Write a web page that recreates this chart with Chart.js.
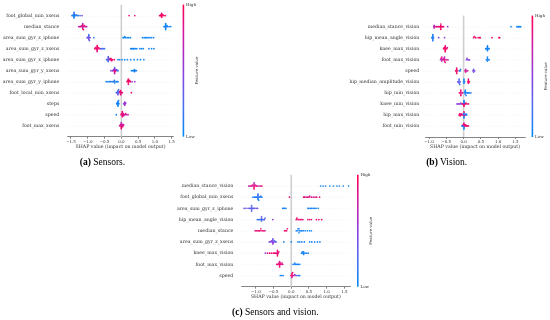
<!DOCTYPE html>
<html><head><meta charset="utf-8">
<script src="https://cdn.jsdelivr.net/npm/chart.js@4.4.1/dist/chart.umd.min.js"></script>
<style>
html,body{margin:0;padding:0;background:#fff;}
#wrap{position:relative;width:550px;height:320px;overflow:hidden;background:#fff;}
canvas{position:absolute;left:0;top:0;}
.cap{position:absolute;font-family:"Liberation Serif",serif;font-size:9.5px;line-height:1;color:#000;white-space:nowrap;transform:translate(-50%,-50%);}
</style></head><body>
<div id="wrap">
<canvas id="ca" width="550" height="320"></canvas>
<canvas id="cb" width="550" height="320"></canvas>
<canvas id="cc" width="550" height="320"></canvas>
<div class="cap" style="left:102.5px;top:163px"><b>(a)</b> Sensors.</div>
<div class="cap" style="left:446.7px;top:163px"><b>(b)</b> Vision.</div>
<div class="cap" style="left:275.3px;top:313px"><b>(c)</b> Sensors and vision.</div>
</div>
<script>
// ---------- data ----------
const shapTicks = [-1.5, -1.0, -0.5, 0.0, 0.5, 1.0, 1.5];
const axisTitle = 'SHAP value (impact on model output)';

const sensorsFeatures = ['foot_global_min_xsens','median_stance','area_sum_gyr_z_iphone','area_sum_gyr_z_xsens','area_sum_gyr_x_iphone','area_sum_gyr_y_xsens','area_sum_gyr_y_iphone','foot_local_min_xsens','steps','speed','foot_max_xsens'];
// each point: [SHAP value, normalised feature value (0 = low, 1 = high)]
const sensorsPoints = [
 [[-1.47,.05],[-1.45,.1],[-1.43,.05],[-1.42,.1],[-1.41,.05],[-1.41,.2],[-1.41,.05],[-1.41,.1],[-1.41,.3],[-1.41,.05],[-1.41,.15],[-1.39,.1],[-1.38,.05],[-1.36,.1],[-1.34,.2],[-1.31,.1],[-1.28,.1],[-1.23,.15],[-1.17,.45],[0.23,.9],[0.40,.85],[1.14,.9],[1.16,.95],[1.18,1],[1.19,.9],[1.20,.95],[1.20,1],[1.20,.9],[1.20,.95],[1.20,.85],[1.22,1],[1.24,.9],[1.27,.95],[1.31,.9]],
 [[-1.27,.7],[-1.24,.8],[-1.21,.9],[-1.19,.6],[-1.17,.95],[-1.15,.8],[-1.15,.9],[-1.15,.7],[-1.15,1],[-1.15,.85],[-1.15,.6],[-1.13,.95],[-1.12,.8],[-1.10,.9],[-1.08,.7],[-1.05,.9],[-1.03,.6],[1.27,.05],[1.29,.1],[1.31,.05],[1.32,.05],[1.32,.1],[1.32,0],[1.32,.05],[1.32,.1],[1.32,.05],[1.34,.05],[1.36,.05],[1.38,.1],[1.42,.05],[1.47,.05]],
 [[-1.02,.3],[-1.00,.4],[-0.98,.3],[-0.97,.45],[-0.97,.35],[-0.97,.4],[-0.97,.3],[-0.97,.45],[-0.97,.2],[-0.95,.3],[-0.93,.4],[-0.82,.15],[0.05,.05],[0.08,.05],[0.10,0],[0.13,.05],[0.18,.05],[0.22,.05],[0.27,.05],[0.63,.05],[0.68,.05],[0.72,0],[0.76,.05],[0.80,.05],[0.85,.05],[0.90,.05],[0.96,.05]],
 [[-0.79,.95],[-0.77,.9],[-0.75,1],[-0.73,.95],[-0.72,.9],[-0.72,.95],[-0.72,1],[-0.72,.9],[-0.72,.95],[-0.72,.85],[-0.70,.9],[-0.68,.95],[-0.65,.9],[-0.62,.45],[-0.59,.3],[-0.56,.2],[-0.53,.25],[-0.50,.15],[0.28,.05],[0.31,.05],[0.34,.1],[0.36,.05],[0.38,.05],[0.42,.05],[0.46,.05],[0.55,.05],[0.60,.05],[0.65,.05],[0.82,.05],[0.90,.05],[0.97,.05]],
 [[-0.44,.3],[-0.42,.2],[-0.40,.35],[-0.39,.25],[-0.39,.3],[-0.39,.4],[-0.39,.2],[-0.39,.3],[-0.37,.45],[-0.35,.3],[-0.33,.9],[-0.32,.95],[-0.31,.9],[-0.31,1],[-0.29,.9],[-0.26,.95],[-0.21,.9],[-0.10,.05],[-0.05,.05],[0.02,.05],[0.10,.05],[0.18,.05],[0.28,.05],[0.38,.05],[0.48,.05],[0.57,.05],[0.67,.05]],
 [[-0.31,.5],[-0.27,.4],[-0.25,.6],[-0.23,.5],[-0.21,.9],[-0.20,.45],[-0.20,.95],[-0.20,.55],[-0.20,.9],[-0.20,.3],[-0.20,.6],[-0.18,.9],[-0.17,.5],[-0.16,.95],[-0.14,.4],[-0.12,.2],[-0.10,.1],[0.30,.05],[0.34,.05],[0.37,.1],[0.39,.05],[0.39,.05],[0.39,.1],[0.42,.05],[0.45,.1]],
 [[-0.45,.05],[-0.40,.1],[-0.36,.05],[-0.32,.05],[-0.28,.15],[-0.25,.1],[-0.22,.05],[-0.21,.2],[-0.20,.1],[-0.18,.05],[-0.15,.1],[-0.12,.05],[-0.10,.05],[0.17,.95],[0.19,.9],[0.21,1],[0.21,.95],[0.21,.9],[0.21,1],[0.21,.85],[0.23,.95],[0.25,.9],[0.27,.95],[0.32,.55],[0.40,.5]],
 [[-0.15,.2],[-0.13,.3],[-0.11,.1],[-0.10,.4],[-0.10,.2],[-0.10,.3],[-0.10,.15],[-0.10,.45],[-0.08,.25],[-0.07,.35],[-0.05,.9],[-0.03,.95],[-0.02,.85],[-0.02,.9],[-0.02,.95],[-0.02,.9],[0.00,.85],[0.03,.9],[0.30,.95]],
 [[-0.14,.05],[-0.13,.1],[-0.12,.05],[-0.10,0],[-0.10,.05],[-0.10,.1],[-0.10,.05],[-0.10,0],[-0.10,.1],[-0.10,.05],[-0.08,.1],[-0.07,.05],[0.07,.55],[0.09,.5],[0.10,.6],[0.10,.55],[0.10,.5],[0.10,.6],[0.12,.5],[0.13,.55]],
 [[-0.15,.05],[-0.01,.9],[0.01,.95],[0.03,.85],[0.03,.9],[0.03,1],[0.03,.8],[0.03,.9],[0.03,.95],[0.05,.7],[0.06,.9],[0.07,.85],[0.09,.95],[0.11,.6],[0.13,.9],[0.16,.7],[0.20,.75]],
 [[-0.05,.8],[-0.03,.9],[-0.02,.7],[0.00,.95],[0.00,.85],[0.00,.9],[0.00,.75],[0.00,.95],[0.00,.6],[0.00,.9],[0.02,.8],[0.03,.85],[0.04,.95],[0.05,.7],[0.07,.8]]
];

const visionFeatures = ['median_stance_vision','hip_mean_angle_vision','knee_max_vision','foot_max_vision','speed','hip_median_amplitude_vision','hip_min_vision','knee_min_vision','hip_max_vision','foot_min_vision'];
const visionPoints = [
 [[-0.86,.55],[-0.85,.6],[-0.85,.7],[-0.85,.8],[-0.82,.75],[-0.78,.9],[-0.75,.85],[-0.72,.95],[-0.69,.9],[-0.66,1],[-0.66,.9],[-0.66,.95],[-0.66,.85],[-0.66,1],[-0.63,.9],[-0.61,.95],[-0.58,.85],[-0.46,.5],[1.37,.05],[1.54,.05],[1.57,.1],[1.59,.05],[1.62,.05],[1.65,.05]],
 [[-0.92,.1],[-0.90,.05],[-0.89,.15],[-0.89,.05],[-0.89,.1],[-0.89,.2],[-0.89,.05],[-0.89,.1],[-0.87,.15],[-0.72,.4],[-0.55,.5],[0.29,.95],[0.31,.9],[0.35,.95],[0.42,.9],[0.46,1],[0.48,.95],[0.82,.9],[1.02,.95],[1.04,1]],
 [[-0.58,.9],[-0.56,.95],[-0.55,1],[-0.53,.9],[-0.53,.95],[-0.53,.85],[-0.53,1],[-0.53,.9],[-0.53,.95],[-0.50,.9],[-0.49,.95],[-0.47,.85],[0.64,.05],[0.66,.1],[0.68,.05],[0.69,.05],[0.69,.1],[0.69,.05],[0.69,.05],[0.69,.1],[0.71,.05],[0.74,.05]],
 [[-0.67,.6],[-0.65,.8],[-0.63,.65],[-0.63,.9],[-0.63,.7],[-0.63,.85],[-0.60,.6],[-0.58,.95],[-0.57,.75],[-0.55,.9],[-0.55,.65],[-0.55,.85],[-0.55,.7],[-0.53,.9],[-0.51,.8],[-0.48,.95],[-0.45,.7],[0.08,.45],[0.10,.5],[0.12,.4],[0.15,.45],[0.17,.5],[0.66,.05],[0.68,.1],[0.69,.05],[0.69,.05],[0.69,.1],[0.71,.05],[0.74,.05]],
 [[-0.23,.95],[-0.21,.9],[-0.20,1],[-0.20,.95],[-0.20,.9],[-0.20,.95],[-0.17,.9],[-0.12,.1],[-0.10,.05],[-0.09,.15],[0.04,.8],[0.06,.9],[0.06,.7],[0.06,.85],[0.09,.75],[0.12,.8],[0.27,.4],[0.29,.45],[0.29,.35],[0.29,.4],[0.32,.45]],
 [[-0.17,.35],[-0.15,.3],[-0.13,.4],[-0.13,.25],[-0.13,.35],[-0.13,.3],[-0.11,.2],[-0.10,.3],[0.00,.05],[0.01,.1],[0.01,.05],[0.01,0],[0.03,.05],[0.12,.95],[0.14,.9],[0.14,1],[0.14,.95],[0.14,.9],[0.17,.95]],
 [[-0.12,.9],[-0.10,.95],[-0.08,.85],[-0.08,.9],[-0.08,.95],[-0.08,.9],[-0.05,.8],[-0.03,.9],[0.02,.1],[0.04,.05],[0.05,.1],[0.05,.05],[0.05,.15],[0.05,.1],[0.07,.05],[0.09,.1],[0.11,.05],[0.14,.1],[0.17,.05],[0.21,.1]],
 [[-0.19,.5],[-0.16,.45],[-0.13,.55],[-0.10,.5],[-0.08,.6],[-0.06,.5],[-0.03,.9],[-0.01,.95],[0.01,.1],[0.01,.9],[0.01,.05],[0.01,.95],[0.01,.15],[0.01,.9],[0.01,.1],[0.03,.85],[0.04,.05],[0.05,.9],[0.07,.95],[0.10,.9],[0.14,.85]],
 [[-0.13,.9],[-0.11,.95],[-0.10,.85],[-0.10,.9],[-0.10,.95],[-0.07,.9],[-0.05,.85],[-0.03,.9],[0.00,.1],[0.01,.05],[0.01,.9],[0.01,.1],[0.01,.05],[0.01,.95],[0.01,.1],[0.04,.05],[0.05,.85],[0.07,.1],[0.09,.05]],
 [[-0.05,.1],[-0.03,.05],[-0.02,.9],[0.00,.1],[0.01,.95],[0.01,.05],[0.01,.9],[0.01,.1],[0.01,.85],[0.01,.05],[0.03,.9],[0.04,.95],[0.05,.85],[0.06,.9],[0.08,.95],[0.11,.9],[0.14,.85]]
];

const bothFeatures = ['median_stance_vision','foot_global_min_xsens','area_sum_gyr_z_iphone','hip_mean_angle_vision','median_stance','area_sum_gyr_z_xsens','knee_max_vision','foot_max_vision','speed'];
const bothPoints = [
 [[-1.20,.7],[-1.17,.8],[-1.14,.9],[-1.12,.6],[-1.10,.95],[-1.08,.85],[-1.06,.7],[-1.05,.9],[-1.05,1],[-1.05,.8],[-1.05,.95],[-1.05,.6],[-1.05,.9],[-1.03,.85],[-1.01,.75],[-0.99,.95],[-0.97,.9],[-0.94,.8],[-0.90,.65],[-0.86,.9],[-0.83,.95],[0.83,.05],[0.90,.05],[0.97,.1],[1.09,.05],[1.19,.05],[1.29,.05],[1.36,.1],[1.47,.05],[1.62,.05]],
 [[-1.08,.1],[-1.04,.15],[-1.01,.05],[-0.98,.2],[-0.96,.1],[-0.94,.25],[-0.94,.05],[-0.94,.15],[-0.94,.3],[-0.94,.1],[-0.94,.2],[-0.92,.05],[-0.90,.15],[-0.88,.1],[-0.86,.2],[-0.83,.1],[-0.05,.9],[0.35,.95],[0.38,.85],[0.42,.9],[0.46,.75],[0.50,.95],[0.52,.8],[0.57,.9],[0.62,.7],[0.67,.95],[0.72,.85],[0.80,.9]],
 [[-1.33,.45],[-1.28,.3],[-1.22,.4],[-1.18,.25],[-1.15,.35],[-1.12,.2],[-1.12,.4],[-1.12,.3],[-1.12,.15],[-1.12,.35],[-1.09,.25],[-1.06,.45],[-1.03,.3],[-0.99,.4],[-0.95,.35],[-0.24,.05],[-0.21,.1],[-0.18,.05],[-0.15,.05],[0.47,.05],[0.50,.05],[0.54,.1],[0.58,.05],[0.62,.05],[0.66,.1],[0.70,.05],[0.76,.05]],
 [[-0.96,.15],[-0.92,.2],[-0.89,.1],[-0.86,.3],[-0.84,.15],[-0.84,.4],[-0.84,.2],[-0.84,.35],[-0.81,.1],[-0.78,.25],[-0.76,.4],[-0.74,.2],[-0.52,.55],[0.14,.9],[0.16,.95],[0.19,.85],[0.22,.9],[0.26,.95],[0.30,.9],[0.33,.85],[0.47,.95],[0.52,.9],[0.57,.85],[0.71,.95],[0.78,.9],[0.86,.95]],
 [[-1.02,.9],[-0.99,.85],[-0.96,.95],[-0.93,.9],[-0.90,.8],[-0.88,.95],[-0.86,.9],[-0.83,.85],[-0.80,.95],[-0.77,.9],[-0.74,.85],[-0.19,.95],[-0.16,.9],[-0.13,.95],[-0.11,.9],[0.14,.05],[0.17,.1],[0.19,.05],[0.22,.05],[0.22,.15],[0.22,.05],[0.25,.1],[0.28,.05],[0.31,.05],[0.35,.1],[0.40,.05],[0.46,.05],[0.52,.05],[0.57,.05]],
 [[-0.62,.5],[-0.58,.4],[-0.56,.55],[-0.54,.45],[-0.52,.6],[-0.52,.35],[-0.52,.5],[-0.52,.45],[-0.52,.55],[-0.52,.4],[-0.49,.5],[-0.47,.2],[-0.45,.45],[-0.43,.3],[-0.21,.05],[0.00,.05],[0.19,.05],[0.24,.05],[0.30,.1],[0.37,.05],[0.52,.05],[0.58,.05],[0.66,.1],[0.74,.05],[0.81,.05]],
 [[-0.73,.5],[-0.67,.9],[-0.61,.95],[-0.56,.85],[-0.51,.9],[-0.48,.95],[-0.45,.9],[-0.42,.85],[-0.39,.95],[-0.39,.9],[-0.39,1],[-0.39,.9],[-0.39,.95],[-0.37,.85],[-0.35,.9],[0.29,.05],[0.31,.1],[0.33,.05],[0.35,.05],[0.35,.1],[0.35,.05],[0.39,.05],[0.43,.1],[0.48,.05]],
 [[-0.41,.8],[-0.39,.9],[-0.37,.95],[-0.35,.85],[-0.33,.9],[-0.33,1],[-0.33,.9],[-0.33,.75],[-0.33,.95],[-0.31,.85],[-0.30,.9],[-0.28,.8],[-0.26,.9],[-0.24,.85],[0.05,.05],[0.08,.1],[0.10,.05],[0.12,.05],[0.14,.1],[0.17,.05],[0.20,.05],[0.24,.05]],
 [[-0.31,.05],[-0.27,.1],[-0.23,.05],[-0.01,.9],[0.02,.95],[0.02,.85],[0.02,.9],[0.02,1],[0.02,.8],[0.04,.9],[0.06,.7],[0.08,.85],[0.10,.6],[0.13,.45],[0.16,.3],[0.19,.2],[0.22,.15],[0.24,.1]]
];

// ---------- rendering helpers ----------
const FONT = '"DejaVu Serif", serif';
const CSTOPS = [[0,[0,139,246]],[0.25,[80,110,240]],[0.5,[140,62,222]],[0.75,[205,28,168]],[1,[255,0,82]]];
function fvColor(v){
  for(let i=1;i<CSTOPS.length;i++){
    const [p1,c1]=CSTOPS[i], [p0,c0]=CSTOPS[i-1];
    if(v<=p1){const t=(v-p0)/(p1-p0);return 'rgb('+c0.map((c,k)=>Math.round(c+(c1[k]-c)*t)).join(',')+')';}
  }
  return 'rgb(255,0,82)';
}
// SHAP-style beeswarm offsets: points that share a bin are stacked alternately above and below
function swarm(row){
  const idx=row.map((_,i)=>i).sort((a,b)=>row[a][0]-row[b][0]||a-b);
  const ys=new Array(row.length).fill(0);
  let layer=0,last=null;
  for(const i of idx){
    const q=Math.round(row[i][0]/0.03);
    if(q!==last) layer=0;
    ys[i]=Math.ceil(layer/2)*((layer%2)*2-1);
    layer++; last=q;
  }
  const m=Math.max(...ys.map(v=>v+1));
  return ys.map(v=>v*0.9*0.4/m);
}
function fmt(v){ if(Math.abs(v)<1e-9) return '0.0'; return v<0?'\u2212'+Math.abs(v).toFixed(1):v.toFixed(1); }

function buildPanel(id, features, rows, g){
  const n=features.length;
  const data=[], colors=[];
  rows.forEach((row,i)=>{
    const base=n-1-i, offs=swarm(row);
    row.forEach((p,j)=>{ data.push({x:p[0], y:base+offs[j]}); colors.push(fvColor(p[1])); });
  });
  const guides={id:'guides'+id, beforeDatasetsDraw(chart){
    const {ctx,chartArea:a,scales:{x,y}}=chart;
    ctx.save();
    ctx.strokeStyle='#cccccc'; ctx.lineWidth=0.5; ctx.setLineDash([0.6,2.4]);
    for(let r=0;r<n;r++){const py=Math.round(y.getPixelForValue(r))+0.25; ctx.beginPath(); ctx.moveTo(a.left,py); ctx.lineTo(a.right,py); ctx.stroke();}
    ctx.setLineDash([]); ctx.strokeStyle='#cfcfcf'; ctx.lineWidth=1.6;
    const x0=x.getPixelForValue(0); ctx.beginPath(); ctx.moveTo(x0,a.top); ctx.lineTo(x0,a.bottom); ctx.stroke();
    ctx.restore();
  }};
  const cbar={id:'cbar'+id, afterDraw(chart){
    const {ctx,chartArea:a}=chart;
    ctx.save();
    const gr=ctx.createLinearGradient(0,a.bottom,0,a.top);
    CSTOPS.forEach(([p])=>gr.addColorStop(p,fvColor(p)));
    ctx.fillStyle=gr; ctx.fillRect(g.cbx,a.top,1.6,a.bottom-a.top);
    ctx.fillStyle='#333'; ctx.font='4px '+FONT; ctx.textAlign='left'; ctx.textBaseline='middle';
    ctx.fillText('High',g.cbx+3.5,a.top); ctx.fillText('Low',g.cbx+3.5,a.bottom);
    ctx.translate(g.fvx,(a.top+a.bottom)/2); ctx.rotate(-Math.PI/2); ctx.textAlign='center';
    ctx.fillText('Feature value',0,0);
    ctx.restore();
  }};
  return new Chart(document.getElementById(id),{
    type:'scatter',
    data:{datasets:[{data, backgroundColor:colors, pointRadius:0.85, pointBorderWidth:0, borderWidth:0}]},
    options:{
      responsive:false, animation:false, devicePixelRatio:1,
      layout:{autoPadding:false, padding:{left:g.left-g.yw, top:g.top, right:550-g.right, bottom:320-g.bottom-g.xh}},
      plugins:{legend:{display:false}, tooltip:{enabled:false}},
      scales:{
        x:{type:'linear', min:g.xmin, max:g.xmax,
          afterBuildTicks:s=>{s.ticks=shapTicks.filter(v=>v>=g.xmin&&v<=g.xmax).map(v=>({value:v}));},
          afterFit:s=>{s.height=g.xh; s.paddingLeft=0; s.paddingRight=0;},
          ticks:{font:{family:FONT,size:4,lineHeight:1.2}, color:'#333', padding:1, maxRotation:0, autoSkip:false, callback:v=>fmt(v)},
          grid:{drawOnChartArea:false, drawTicks:true, tickLength:2, color:'#333', lineWidth:0.6},
          border:{display:true, color:'#333', width:0.6},
          title:{display:true, text:axisTitle, font:{family:FONT,size:4.7,lineHeight:1.2}, color:'#333', padding:0}
        },
        y:{type:'linear', min:-1, max:n,
          afterBuildTicks:s=>{s.ticks=features.map((f,i)=>({value:n-1-i}));},
          afterFit:s=>{s.width=g.yw; s.paddingTop=0; s.paddingBottom=0;},
          ticks:{font:{family:FONT,size:4.7,lineHeight:1.2}, color:'#333', padding:g.gap, autoSkip:false, callback:v=>features[n-1-Math.round(v)]},
          grid:{display:false, drawTicks:false}, border:{display:false}
        }
      }
    },
    plugins:[guides,cbar]
  });
}

buildPanel('ca', sensorsFeatures, sensorsPoints, {left:67.7, right:173.3, top:4.6, bottom:136.7, xh:12.5, yw:66, gap:8.4, xmin:-1.598, xmax:1.548, cbx:182.6, fvx:197.3});
buildPanel('cb', visionFeatures, visionPoints, {left:425, right:525, top:15.6, bottom:137, xh:12.5, yw:100, gap:5.7, xmin:-1.116, xmax:1.775, cbx:531.6, fvx:545.7});
buildPanel('cc', bothFeatures, bothPoints, {left:241.7, right:350, top:174.8, bottom:286.7, xh:12.5, yw:100, gap:8.4, xmin:-1.4, xmax:1.66, cbx:357, fvx:371});
</script>
</body></html>
